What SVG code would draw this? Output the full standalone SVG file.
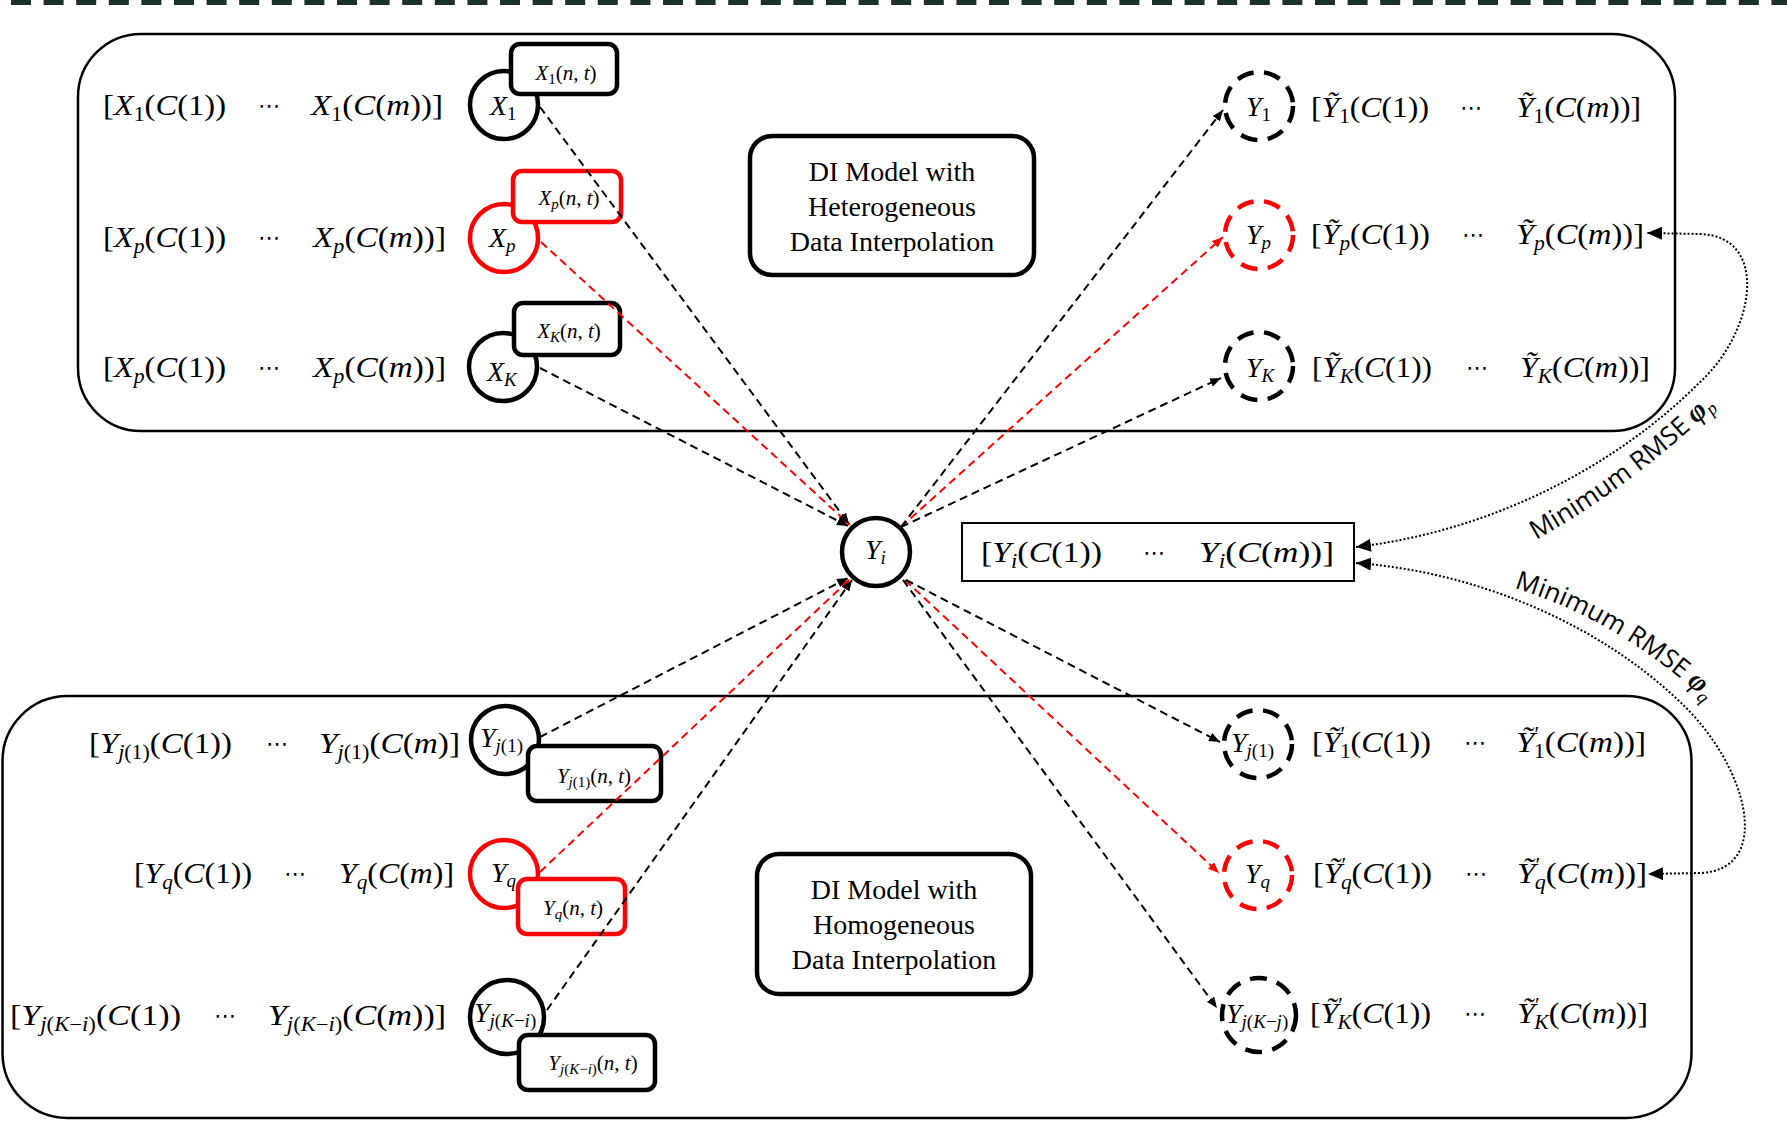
<svg xmlns="http://www.w3.org/2000/svg" width="1787" height="1124" viewBox="0 0 1787 1124">
<defs>
<style>
.m{font-family:"Liberation Serif","DejaVu Serif",serif;font-size:30px;fill:#000}
.i{font-style:italic}
.s{font-size:20px}
.lb{font-family:"Liberation Serif","DejaVu Serif",serif;font-size:28px;font-style:italic}
.ls{font-size:19px}
.up{font-style:normal}
.tg{font-family:"Liberation Serif","DejaVu Serif",serif;font-size:21px;text-anchor:middle}
.ts{font-size:15px}
.dots{font-family:"DejaVu Sans",sans-serif;font-size:22px;text-anchor:middle}
.frame{fill:none;stroke:#000;stroke-width:2.5}
.model{fill:#fff;stroke:#000;stroke-width:4.5}
.mt{font-family:"Liberation Serif","DejaVu Serif",serif;font-size:28px;text-anchor:middle}
.ring{fill:#fff;stroke:#000;stroke-width:4.5}
.dring{fill:none;stroke:#000;stroke-width:4.5;stroke-dasharray:17 10.5}
.tag{fill:#fff;stroke:#000;stroke-width:4.5}
.red{stroke:#f00}
.edge{fill:none;stroke:#000;stroke-width:2;stroke-dasharray:8 5}
.edge.red{stroke:#f00}
.dot{fill:none;stroke:#000;stroke-width:2;stroke-dasharray:2 2}
.rm{font-family:"Open Sans","Liberation Sans",sans-serif;font-size:26px}
.phi{font-family:"Liberation Serif","DejaVu Serif",serif;font-weight:bold;font-style:italic;font-size:29px}
.phs{font-family:"Liberation Serif","DejaVu Serif",serif;font-style:italic;font-size:18px}
</style>
<marker id="ah" viewBox="0 0 11 9" refX="11" refY="4.5" markerWidth="11" markerHeight="9" markerUnits="userSpaceOnUse" orient="auto">
<path d="M0,0 L11,4.5 L0,9 z" fill="#000"/>
</marker>
<marker id="ahr" viewBox="0 0 11 9" refX="11" refY="4.5" markerWidth="11" markerHeight="9" markerUnits="userSpaceOnUse" orient="auto">
<path d="M0,0 L11,4.5 L0,9 z" fill="#f00"/>
</marker>
<marker id="big" viewBox="0 0 15 13" refX="15" refY="6.5" markerWidth="15" markerHeight="13" markerUnits="userSpaceOnUse" orient="auto-start-reverse">
<path d="M0,0 L15,6.5 L0,13 z" fill="#000"/>
</marker>
<path id="rp" d="M1536,540 Q1640,482 1734,388"/>
<path id="rq" d="M1514,588 Q1625,622 1718,712"/>
</defs>

<rect width="1787" height="1124" fill="#fff"/>
<line x1="0" y1="2.5" x2="1787" y2="2.5" stroke="#1b3327" stroke-width="5" stroke-dasharray="20 12.6" stroke-dashoffset="-11"/>

<!-- the two model frames -->
<g id="frame-hetero">
<rect class="frame" x="78" y="34" width="1597" height="397" rx="63"/>
<rect class="model" x="750" y="136" width="284" height="139" rx="22"/>
<text class="mt" x="892" y="181">DI Model with</text>
<text class="mt" x="892" y="216">Heterogeneous</text>
<text class="mt" x="892" y="251">Data Interpolation</text>
</g>
<g id="frame-homo">
<rect class="frame" x="2.5" y="696" width="1689" height="422" rx="65"/>
<rect class="model" x="757" y="854" width="274" height="140" rx="22"/>
<text class="mt" x="894" y="899">DI Model with</text>
<text class="mt" x="894" y="934">Homogeneous</text>
<text class="mt" x="894" y="969">Data Interpolation</text>
</g>

<!-- input series, heterogeneous side -->
<g id="node-x1">
<text class="m" x="103" y="115" textLength="123" lengthAdjust="spacingAndGlyphs">[<tspan class="i">X</tspan><tspan class="s" dy="6">1</tspan><tspan dy="-6">(<tspan class="i">C</tspan>(1))</tspan></text>
<text class="dots" x="269" y="113">⋯</text>
<text class="m" x="311" y="115" textLength="132" lengthAdjust="spacingAndGlyphs"><tspan class="i">X</tspan><tspan class="s" dy="6">1</tspan><tspan dy="-6">(<tspan class="i">C</tspan>(<tspan class="i">m</tspan>))]</tspan></text>
<circle class="ring" cx="504" cy="105" r="34"/>
<text class="lb" x="490" y="115">X<tspan class="ls up" dy="5">1</tspan></text>
<rect class="tag" x="511" y="44" width="106" height="50" rx="9"/>
<text class="tg" x="566" y="80"><tspan class="i">X</tspan><tspan class="ts" dy="4">1</tspan><tspan dy="-4">(<tspan class="i">n</tspan>, <tspan class="i">t</tspan>)</tspan></text>
</g>
<g id="node-xp">
<text class="m" x="103" y="247" textLength="123" lengthAdjust="spacingAndGlyphs">[<tspan class="i">X</tspan><tspan class="s i" dy="6">p</tspan><tspan dy="-6">(<tspan class="i">C</tspan>(1))</tspan></text>
<text class="dots" x="269" y="245">⋯</text>
<text class="m" x="313" y="247" textLength="133" lengthAdjust="spacingAndGlyphs"><tspan class="i">X</tspan><tspan class="s i" dy="6">p</tspan><tspan dy="-6">(<tspan class="i">C</tspan>(<tspan class="i">m</tspan>))]</tspan></text>
<circle class="ring red" cx="504" cy="238" r="34"/>
<text class="lb" x="489" y="247">X<tspan class="ls" dy="5">p</tspan></text>
<rect class="tag red" x="513" y="171" width="108" height="51" rx="9"/>
<text class="tg" x="569" y="205"><tspan class="i">X</tspan><tspan class="ts i" dy="4">p</tspan><tspan dy="-4">(<tspan class="i">n</tspan>, <tspan class="i">t</tspan>)</tspan></text>
</g>
<g id="node-xk">
<text class="m" x="103" y="377" textLength="123" lengthAdjust="spacingAndGlyphs">[<tspan class="i">X</tspan><tspan class="s i" dy="6">p</tspan><tspan dy="-6">(<tspan class="i">C</tspan>(1))</tspan></text>
<text class="dots" x="269" y="375">⋯</text>
<text class="m" x="313" y="377" textLength="133" lengthAdjust="spacingAndGlyphs"><tspan class="i">X</tspan><tspan class="s i" dy="6">p</tspan><tspan dy="-6">(<tspan class="i">C</tspan>(<tspan class="i">m</tspan>))]</tspan></text>
<circle class="ring" cx="503" cy="367" r="34"/>
<text class="lb" x="487" y="381">X<tspan class="ls" dy="5">K</tspan></text>
<rect class="tag" x="514" y="303" width="106" height="52" rx="9"/>
<text class="tg" x="569" y="338"><tspan class="i">X</tspan><tspan class="ts i" dy="4">K</tspan><tspan dy="-4">(<tspan class="i">n</tspan>, <tspan class="i">t</tspan>)</tspan></text>
</g>

<!-- estimated series, heterogeneous side -->
<g id="node-y1">
<circle class="dring" cx="1259" cy="106" r="34"/>
<text class="lb" x="1246" y="116">Y<tspan class="ls up" dy="5">1</tspan></text>
<text class="m" x="1311" y="117" textLength="118" lengthAdjust="spacingAndGlyphs">[<tspan class="i">Ỹ</tspan><tspan class="s" dy="6">1</tspan><tspan dy="-6">(<tspan class="i">C</tspan>(1))</tspan></text>
<text class="dots" x="1471" y="115">⋯</text>
<text class="m" x="1516" y="117" textLength="125" lengthAdjust="spacingAndGlyphs"><tspan class="i">Ỹ</tspan><tspan class="s" dy="6">1</tspan><tspan dy="-6">(<tspan class="i">C</tspan>(<tspan class="i">m</tspan>))]</tspan></text>
</g>
<g id="node-yp">
<circle class="dring red" cx="1259" cy="235" r="34"/>
<text class="lb" x="1246" y="244">Y<tspan class="ls" dy="5">p</tspan></text>
<text class="m" x="1311" y="244" textLength="119" lengthAdjust="spacingAndGlyphs">[<tspan class="i">Ỹ</tspan><tspan class="s i" dy="6">p</tspan><tspan dy="-6">(<tspan class="i">C</tspan>(1))</tspan></text>
<text class="dots" x="1473" y="242">⋯</text>
<text class="m" x="1516" y="244" textLength="128" lengthAdjust="spacingAndGlyphs"><tspan class="i">Ỹ</tspan><tspan class="s i" dy="6">p</tspan><tspan dy="-6">(<tspan class="i">C</tspan>(<tspan class="i">m</tspan>))]</tspan></text>
</g>
<g id="node-yk">
<circle class="dring" cx="1259" cy="366" r="34"/>
<text class="lb" x="1246" y="377">Y<tspan class="ls" dy="5">K</tspan></text>
<text class="m" x="1312" y="377" textLength="120" lengthAdjust="spacingAndGlyphs">[<tspan class="i">Ỹ</tspan><tspan class="s i" dy="6">K</tspan><tspan dy="-6">(<tspan class="i">C</tspan>(1))</tspan></text>
<text class="dots" x="1477" y="375">⋯</text>
<text class="m" x="1520" y="377" textLength="130" lengthAdjust="spacingAndGlyphs"><tspan class="i">Ỹ</tspan><tspan class="s i" dy="6">K</tspan><tspan dy="-6">(<tspan class="i">C</tspan>(<tspan class="i">m</tspan>))]</tspan></text>
</g>

<!-- target station -->
<g id="node-yi">
<circle class="ring" cx="876" cy="552" r="34"/>
<text class="lb" x="865" y="559">Y<tspan class="ls" dy="5">i</tspan></text>
</g>
<g id="series-yi">
<rect x="962" y="523" width="392" height="58" fill="#fff" stroke="#000" stroke-width="2"/>
<text class="m" x="981" y="562" textLength="121" lengthAdjust="spacingAndGlyphs">[<tspan class="i">Y</tspan><tspan class="s i" dy="6">i</tspan><tspan dy="-6">(<tspan class="i">C</tspan>(1))</tspan></text>
<text class="dots" x="1154" y="560">⋯</text>
<text class="m" x="1199" y="562" textLength="135" lengthAdjust="spacingAndGlyphs"><tspan class="i">Y</tspan><tspan class="s i" dy="6">i</tspan><tspan dy="-6">(<tspan class="i">C</tspan>(<tspan class="i">m</tspan>))]</tspan></text>
</g>

<!-- input series, homogeneous side -->
<g id="node-yj1">
<text class="m" x="89" y="753" textLength="143" lengthAdjust="spacingAndGlyphs">[<tspan class="i">Y</tspan><tspan class="s" dy="6"><tspan class="i">j</tspan>(1)</tspan><tspan dy="-6">(<tspan class="i">C</tspan>(1))</tspan></text>
<text class="dots" x="277" y="751">⋯</text>
<text class="m" x="319" y="753" textLength="141" lengthAdjust="spacingAndGlyphs"><tspan class="i">Y</tspan><tspan class="s" dy="6"><tspan class="i">j</tspan>(1)</tspan><tspan dy="-6">(<tspan class="i">C</tspan>(<tspan class="i">m</tspan>)]</tspan></text>
<circle class="ring" cx="505" cy="740" r="34"/>
<text class="lb" x="480" y="747">Y<tspan class="ls" dy="5">j<tspan class="up">(1)</tspan></tspan></text>
<rect class="tag" x="528" y="746" width="133" height="55" rx="9"/>
<text class="tg" x="594" y="783"><tspan class="i">Y</tspan><tspan class="ts" dy="4"><tspan class="i">j</tspan>(1)</tspan><tspan dy="-4">(<tspan class="i">n</tspan>, <tspan class="i">t</tspan>)</tspan></text>
</g>
<g id="node-yq">
<text class="m" x="134" y="883" textLength="118" lengthAdjust="spacingAndGlyphs">[<tspan class="i">Y</tspan><tspan class="s i" dy="6">q</tspan><tspan dy="-6">(<tspan class="i">C</tspan>(1))</tspan></text>
<text class="dots" x="295" y="881">⋯</text>
<text class="m" x="339" y="883" textLength="115" lengthAdjust="spacingAndGlyphs"><tspan class="i">Y</tspan><tspan class="s i" dy="6">q</tspan><tspan dy="-6">(<tspan class="i">C</tspan>(<tspan class="i">m</tspan>)]</tspan></text>
<circle class="ring red" cx="504" cy="874" r="34"/>
<text class="lb" x="491" y="882">Y<tspan class="ls" dy="5">q</tspan></text>
<rect class="tag red" x="518" y="879" width="107" height="55" rx="9"/>
<text class="tg" x="573" y="915"><tspan class="i">Y</tspan><tspan class="ts i" dy="4">q</tspan><tspan dy="-4">(<tspan class="i">n</tspan>, <tspan class="i">t</tspan>)</tspan></text>
</g>
<g id="node-yjki">
<text class="m" x="10" y="1025" textLength="171" lengthAdjust="spacingAndGlyphs">[<tspan class="i">Y</tspan><tspan class="s" dy="6"><tspan class="i">j</tspan>(<tspan class="i">K</tspan>−<tspan class="i">i</tspan>)</tspan><tspan dy="-6">(<tspan class="i">C</tspan>(1))</tspan></text>
<text class="dots" x="225" y="1023">⋯</text>
<text class="m" x="268" y="1025" textLength="178" lengthAdjust="spacingAndGlyphs"><tspan class="i">Y</tspan><tspan class="s" dy="6"><tspan class="i">j</tspan>(<tspan class="i">K</tspan>−<tspan class="i">i</tspan>)</tspan><tspan dy="-6">(<tspan class="i">C</tspan>(<tspan class="i">m</tspan>))]</tspan></text>
<circle class="ring" cx="507" cy="1017" r="37"/>
<text class="lb" x="474" y="1022">Y<tspan class="ls" dy="5">j<tspan class="up">(</tspan>K<tspan class="up">−</tspan>i<tspan class="up">)</tspan></tspan></text>
<rect class="tag" x="519" y="1035" width="136" height="55" rx="9"/>
<text class="tg" x="593" y="1070"><tspan class="i">Y</tspan><tspan class="ts" dy="4"><tspan class="i">j</tspan>(<tspan class="i">K</tspan>−<tspan class="i">i</tspan>)</tspan><tspan dy="-4">(<tspan class="i">n</tspan>, <tspan class="i">t</tspan>)</tspan></text>
</g>

<!-- estimated series, homogeneous side -->
<g id="node-yj1-est">
<text class="lb" x="1231" y="752">Y<tspan class="ls" dy="5">j<tspan class="up">(1)</tspan></tspan></text>
<circle class="dring" cx="1258" cy="744" r="34"/>
<text class="m" x="1312" y="752" textLength="119" lengthAdjust="spacingAndGlyphs">[<tspan class="i">Ỹ</tspan><tspan class="s" dy="-11">′</tspan><tspan class="s" dx="-5" dy="17">1</tspan><tspan dy="-6">(<tspan class="i">C</tspan>(1))</tspan></text>
<text class="dots" x="1475" y="750">⋯</text>
<text class="m" x="1516" y="752" textLength="130" lengthAdjust="spacingAndGlyphs"><tspan class="i">Ỹ</tspan><tspan class="s" dy="-11">′</tspan><tspan class="s" dx="-5" dy="17">1</tspan><tspan dy="-6">(<tspan class="i">C</tspan>(<tspan class="i">m</tspan>))]</tspan></text>
</g>
<g id="node-yq-est">
<circle class="dring red" cx="1258" cy="875" r="34"/>
<text class="lb" x="1245" y="883">Y<tspan class="ls" dy="5">q</tspan></text>
<text class="m" x="1313" y="883" textLength="119" lengthAdjust="spacingAndGlyphs">[<tspan class="i">Ỹ</tspan><tspan class="s" dy="-11">′</tspan><tspan class="s i" dx="-5" dy="17">q</tspan><tspan dy="-6">(<tspan class="i">C</tspan>(1))</tspan></text>
<text class="dots" x="1476" y="881">⋯</text>
<text class="m" x="1517" y="883" textLength="130" lengthAdjust="spacingAndGlyphs"><tspan class="i">Ỹ</tspan><tspan class="s" dy="-11">′</tspan><tspan class="s i" dx="-5" dy="17">q</tspan><tspan dy="-6">(<tspan class="i">C</tspan>(<tspan class="i">m</tspan>))]</tspan></text>
</g>
<g id="node-yjkj-est">
<text class="lb" x="1226" y="1023">Y<tspan class="ls" dy="5">j<tspan class="up">(</tspan>K<tspan class="up">−</tspan>j<tspan class="up">)</tspan></tspan></text>
<circle class="dring" cx="1259" cy="1015" r="37"/>
<text class="m" x="1310" y="1023" textLength="121" lengthAdjust="spacingAndGlyphs">[<tspan class="i">Ỹ</tspan><tspan class="s" dy="-11">′</tspan><tspan class="s i" dx="-5" dy="17">K</tspan><tspan dy="-6">(<tspan class="i">C</tspan>(1))</tspan></text>
<text class="dots" x="1475" y="1021">⋯</text>
<text class="m" x="1517" y="1023" textLength="131" lengthAdjust="spacingAndGlyphs"><tspan class="i">Ỹ</tspan><tspan class="s" dy="-11">′</tspan><tspan class="s i" dx="-5" dy="17">K</tspan><tspan dy="-6">(<tspan class="i">C</tspan>(<tspan class="i">m</tspan>))]</tspan></text>
</g>

<!-- connectors -->
<g id="connectors">
<line class="edge red" x1="541" y1="242" x2="850" y2="525" marker-end="url(#ahr)"/>
<line class="edge" x1="540" y1="107" x2="849" y2="524" marker-end="url(#ah)"/>
<line class="edge" x1="540" y1="368" x2="848" y2="526" marker-end="url(#ah)"/>
<line class="edge red" x1="901" y1="527" x2="1223" y2="237" marker-end="url(#ahr)"/>
<line class="edge" x1="901" y1="527" x2="1223" y2="110" marker-end="url(#ah)"/>
<line class="edge" x1="901" y1="527" x2="1221" y2="378" marker-end="url(#ah)"/>
<line class="edge red" x1="540" y1="872" x2="850" y2="579" marker-end="url(#ahr)"/>
<line class="edge" x1="540" y1="737" x2="848" y2="578" marker-end="url(#ah)"/>
<line class="edge" x1="547" y1="1010" x2="852" y2="580" marker-end="url(#ah)"/>
<line class="edge red" x1="905" y1="580" x2="1219" y2="873" marker-end="url(#ahr)"/>
<line class="edge" x1="906" y1="580" x2="1220" y2="742" marker-end="url(#ah)"/>
<line class="edge" x1="903" y1="580" x2="1217" y2="1008" marker-end="url(#ah)"/>
<path class="dot" d="M1356,547 C1500,530 1622,460 1698,384 C1756,332 1770,236 1700,234 L1647,233" marker-start="url(#big)" marker-end="url(#big)"/>
<path class="dot" d="M1356,563 C1480,572 1600,626 1678,700 C1748,764 1775,870 1700,873 L1648,874" marker-start="url(#big)" marker-end="url(#big)"/>
<text class="rm"><textPath href="#rp">Minimum RMSE <tspan class="phi">φ</tspan><tspan class="phs" dy="5">p</tspan></textPath></text>
<text class="rm"><textPath href="#rq">Minimum RMSE <tspan class="phi">φ</tspan><tspan class="phs" dy="5">q</tspan></textPath></text>
</g>
</svg>
